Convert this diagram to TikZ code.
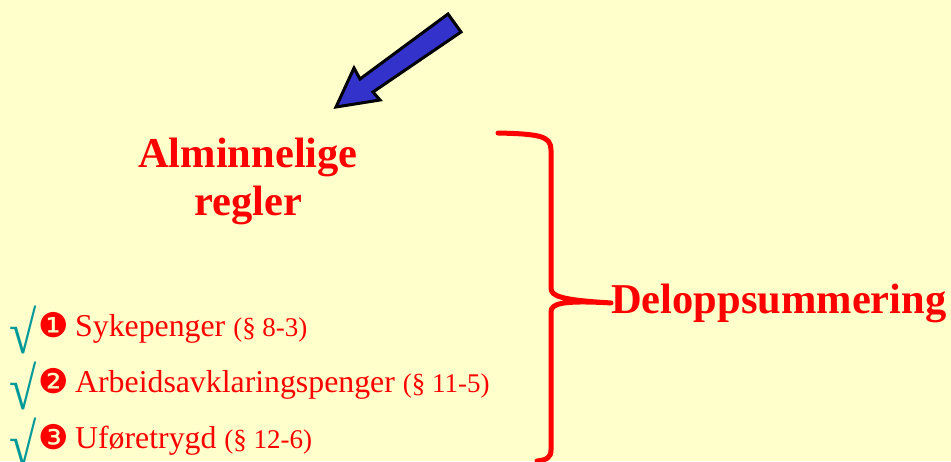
\documentclass[tikz,border=0pt]{standalone}
\usepackage{fontspec}
\setmainfont{Liberation Serif}
\newfontfamily\dingfont{DejaVu Sans}
\usepackage{graphicx}
\usepackage{xcolor}
\definecolor{slidebg}{RGB}{255,255,204}
\definecolor{pointer}{RGB}{51,51,204}
\definecolor{tick}{RGB}{0,153,153}
\newcommand{\tickglyph}{\scalebox{0.83}[1]{√}}

\begin{document}
\begin{tikzpicture}[x=1pt,y=-1pt,
    heading/.style={text=red,font=\fontsize{42.5}{48}\selectfont\bfseries,align=center,inner sep=0pt},
    item/.style={text=red,font=\fontsize{31.8}{36}\selectfont,anchor=base west,inner sep=0pt},
    tickmark/.style={text=tick,font=\fontsize{60}{60}\selectfont\bfseries,anchor=base west,inner sep=0pt},
    bullet/.style={text=red,font=\dingfont\fontsize{34}{34}\selectfont,anchor=base west,inner sep=0pt}]
    \fill [slidebg] (0,0) rectangle (951,461);
    \useasboundingbox (0,0) rectangle (951,461);
    % arrow
    \draw [line width=3pt,fill=pointer,line join=miter]
      (448,14) -- (461,32) -- (373,92) -- (380,100) -- (336,107) -- (354,68) -- (360,79) -- cycle;
    \node [heading,anchor=base] (alm) at (248,167) {Alminnelige};
    \node [heading,anchor=base] (reg) at (248,215) {regler};
    \node [heading,anchor=base west] (sum) at (611,313) {Deloppsummering};
    % list
    \node [tickmark] (t1) at (9,353) {\tickglyph};
    \node [bullet] (b1) at (38,337) {❶};
    \node [item] (i1) at (75,336) {Sykepenger {\fontsize{27}{30}\selectfont(§ 8-3)}};
    \node [tickmark] (t2) at (9,409) {\tickglyph};
    \node [bullet] (b2) at (38,393) {❷};
    \node [item] (i2) at (75,392) {Arbeidsavklaringspenger {\fontsize{27}{30}\selectfont(§ 11-5)}};
    \node [tickmark] (t3) at (9,465) {\tickglyph};
    \node [bullet] (b3) at (38,449) {❸};
    \node [item] (i3) at (75,448) {Uføretrygd {\fontsize{27}{30}\selectfont(§ 12-6)}};
    % brace
    \draw [red,line width=5pt,line cap=round,line join=round]
      (498,133) .. controls (540,134) and (551,136) .. (551,150) -- (551,288)
      .. controls (551,296) and (560,300) .. (sum.west)
      .. controls (560,300) and (551,304) .. (551,312) -- (551,450)
      .. controls (551,458) and (546,460) .. (537,461);
\end{tikzpicture}
\end{document}
